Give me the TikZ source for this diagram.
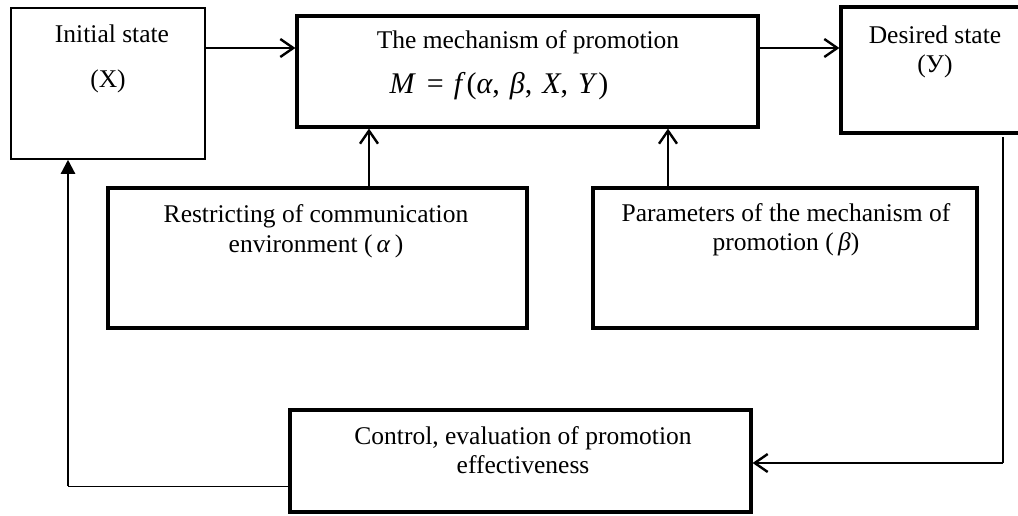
\documentclass[tikz,border=0pt]{standalone}
\usepackage{fontspec}
\setmainfont{Liberation Serif}
\usetikzlibrary{arrows.meta}
\begin{document}
\begin{tikzpicture}[x=1pt,y=-1pt,
  thinbox/.style={draw=black,line width=1.5pt,inner sep=0pt},
  thickbox/.style={draw=black,line width=3.2pt,inner sep=0pt},
  lbl/.style={anchor=base,inner sep=0pt,font=\fontsize{25.5}{30}\selectfont},
  formula/.style={anchor=base,inner sep=0pt,font=\fontsize{30}{36}\selectfont},
  openarrow/.style={line width=2.2pt,-{Straight Barb[length=13pt,width=18pt,line width=2.4pt]}},
  fillarrow/.style={line width=2.2pt,-{Triangle[length=14pt,width=14pt]}}]
\useasboundingbox[fill=white] (0,0) rectangle (1018,515);
% boxes
\node[thinbox,minimum width=194pt,minimum height=151pt] (X) at (108,83.5) {};
\node[thickbox,minimum width=461pt,minimum height=111pt] (M) at (527.5,71.5) {};
\node[thickbox,minimum width=189pt,minimum height=126pt] (Y) at (935.5,70) {};
\node[thickbox,minimum width=419pt,minimum height=140pt] (R) at (317.5,258) {};
\node[thickbox,minimum width=384pt,minimum height=140pt] (P) at (785,258) {};
\node[thickbox,minimum width=461pt,minimum height=102pt] (C) at (520.5,461) {};
% texts
\node[lbl] (tx1) at (112,42) {Initial state};
\node[lbl] (tx2) at (108,87) {(X)};
\node[lbl] (tm1) at (528,48) {The mechanism of promotion};
\node[formula] (tm2) at (499,93) {\textit{M}\hspace{11pt}=\hspace{10pt}\textit{f}\hspace{1pt}(\textit{α},\hspace{10pt}\textit{β},\hspace{10pt}\textit{X},\hspace{10pt}\textit{Y}\hspace{1pt})};
\node[lbl] (ty1) at (935,43) {Desired state};
\node[lbl] (ty2) at (935,72) {(У)};
\node[lbl] (tr1) at (316,222) {Restricting of communication};
\node[lbl] (tr2) at (316,252) {environment (\,\textit{α}\,)};
\node[lbl] (tp1) at (786,221) {Parameters of the mechanism of};
\node[lbl] (tp2) at (786,250) {promotion (\,\textit{β})};
\node[lbl] (tc1) at (523,444) {Control, evaluation of promotion};
\node[lbl] (tc2) at (523,473) {effectiveness};
% connector helpers
\coordinate (r1) at (0,48);
\coordinate (ra) at (369,0);
\coordinate (pa) at (668,0);
\coordinate (fbR) at (1003,463);
\coordinate (fbRtop) at (1003,137);
\coordinate (fbL) at (68,486);
% connectors
\draw[openarrow] (X.east |- r1) -- (M.west |- r1);
\draw[openarrow] (M.east |- r1) -- (Y.west |- r1);
\draw[openarrow] (R.north -| ra) -- (M.south -| ra);
\draw[openarrow] (P.north -| pa) -- (M.south -| pa);
\draw[line width=1.2pt] (fbRtop) -- (fbR);
\draw[openarrow] (fbR) -- (C.east |- fbR);
\draw[line width=1pt] (C.west |- fbL) -- (fbL);
\draw[fillarrow] (fbL) -- (X.south -| fbL);
\end{tikzpicture}
\end{document}
